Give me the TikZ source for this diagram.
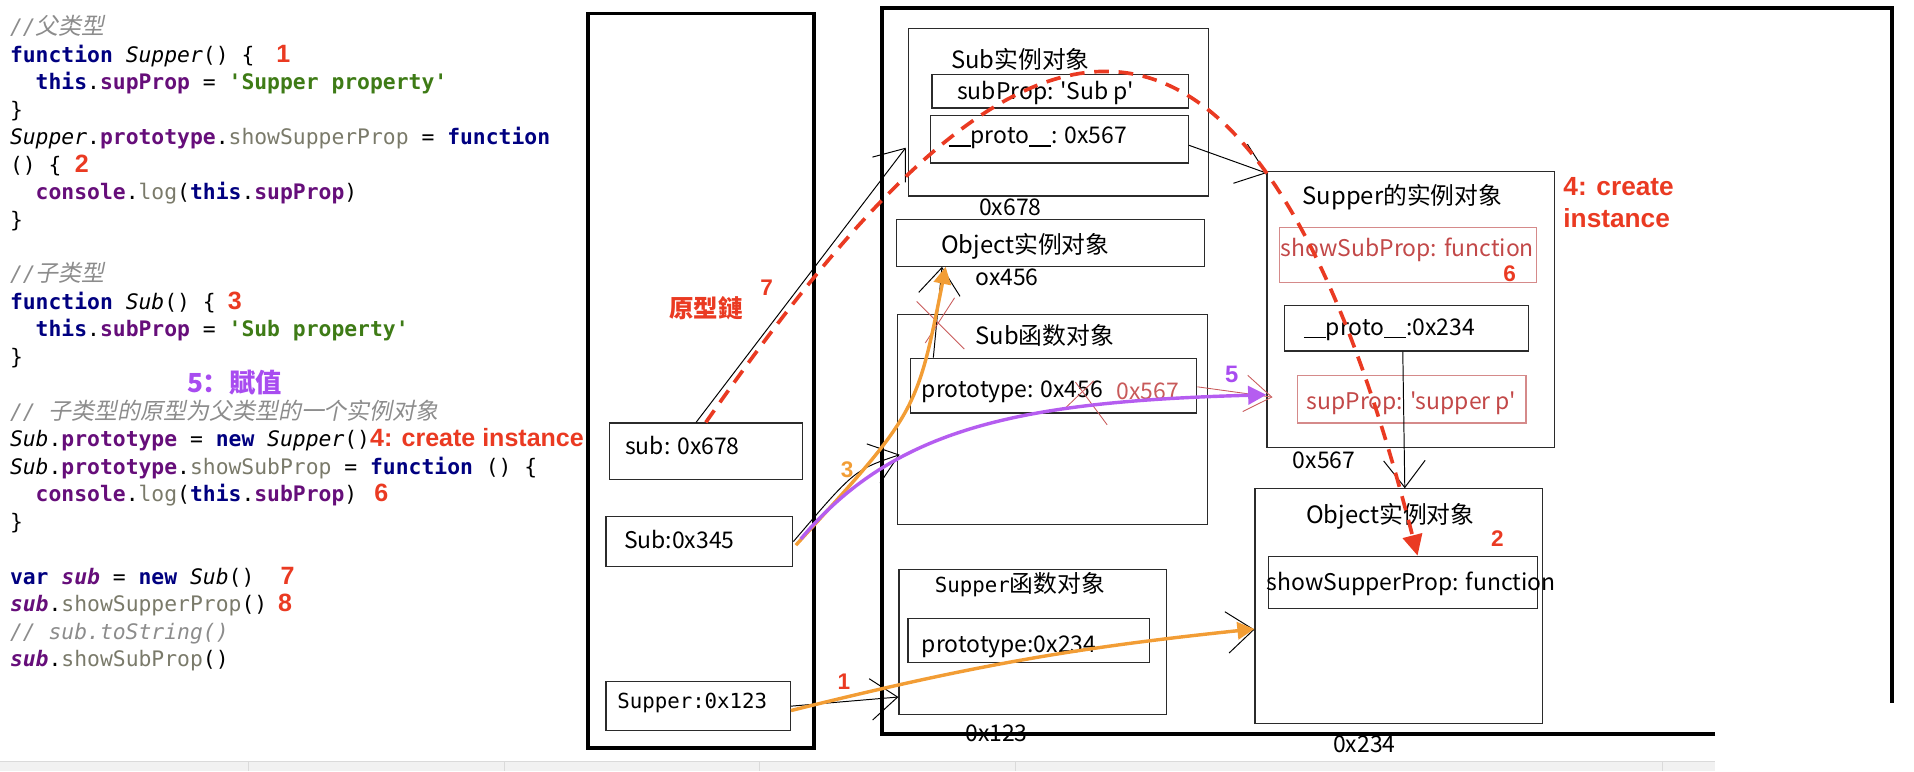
\documentclass[tikz,border=0pt]{standalone}
\usepackage{fontspec}
\setmonofont{DejaVu Sans Mono}
\newfontfamily\cjk{Noto Sans CJK SC}
\newfontfamily\cjkslant[FakeSlant=0.2]{Noto Sans CJK SC}
\newfontfamily\lblfont{Liberation Sans}
\usepackage{xcolor}
\usetikzlibrary{arrows.meta,calc,positioning}

\definecolor{kwblue}{HTML}{000080}
\definecolor{fldpurple}{HTML}{660E7A}
\definecolor{strgreen}{HTML}{3E7B16}
\definecolor{mthgray}{HTML}{7A7A6A}
\definecolor{cmtgray}{HTML}{8C8C8C}
\definecolor{stepred}{HTML}{EA3A22}
\definecolor{arrorange}{HTML}{F29D35}
\definecolor{arrpurple}{HTML}{B55DF0}
\definecolor{assignpurple}{HTML}{A84CF0}
\definecolor{oldred}{HTML}{C85A5A}
\definecolor{slotred}{HTML}{D58A8A}
\definecolor{slottext}{HTML}{C24848}
\definecolor{boxgray}{HTML}{2B2B2B}
\definecolor{stripgray}{HTML}{F1F1F1}
\definecolor{stripline}{HTML}{DADADA}

\newcommand{\codefont}{\ttfamily\fontsize{17.5}{22.5}\selectfont}
\newcommand{\diagfont}{\cjk\fontsize{18.8}{22}\selectfont}
\newcommand{\titlefont}{\cjk\fontsize{19.5}{23}\selectfont}
\newcommand{\monolbl}{\ttfamily\fontsize{17}{20}\selectfont}
\newcommand{\us}{\rule[-2.5pt]{9pt}{1.1pt}}
\newcommand{\jskw}[1]{\textcolor{kwblue}{\bfseries #1}}
\newcommand{\jsfld}[1]{\textcolor{fldpurple}{\bfseries #1}}
\newcommand{\jsstr}[1]{\textcolor{strgreen}{\bfseries #1}}
\newcommand{\jsmth}[1]{\textcolor{mthgray}{#1}}
\newcommand{\jsvar}[1]{\textcolor{fldpurple}{\bfseries\itshape #1}}
\newcommand{\jsid}[1]{{\itshape #1}}
\newcommand{\jscmt}[1]{\textcolor{cmtgray}{\itshape #1}}
\newcommand{\zhc}[1]{{\cjkslant\fontsize{18.8}{22.5}\selectfont #1}}
\newcommand{\stepno}[1]{\textcolor{stepred}{\lblfont\bfseries\fontsize{20.5}{22.5}\selectfont #1}}

\tikzset{%
	frame/.style     = {line width=3pt, black},
	slot/.style      = {draw=boxgray, line width=1pt, inner sep=0pt, anchor=north west},
	redslot/.style   = {slot, draw=slotred},
	txt/.style       = {inner sep=0pt, font=\diagfont},
	title/.style     = {inner sep=0pt, font=\titlefont},
	code/.style      = {inner sep=0pt, anchor=base west, font=\codefont},
	redno/.style     = {inner sep=0pt, text=stepred, font=\lblfont\bfseries\fontsize{18.5}{21}\selectfont},
	handarrow/.style = {line width=0.8pt, -{Straight Barb[length=22pt,width=34pt]}},
	oldmark/.style   = {oldred, line width=0.7pt},
	protochain/.style= {stepred, line width=3pt, dash pattern=on 12pt off 8pt, -{Triangle[length=17pt,width=16pt]}},
	newarrow/.style  = {arrorange, line width=2.8pt, -{Triangle[length=14pt,width=14pt]}},
	setarrow/.style  = {arrpurple, line width=2.8pt, -{Triangle[length=15pt,width=15pt]}},
}

\begin{document}
\begin{tikzpicture}[x=1pt,y=-1pt]
	\useasboundingbox (0,0) rectangle (1568,632);
	% strip at the bottom of the screen
	\fill[stripgray] (0,624) rectangle (1405,632);
	\draw[stripline] (0,624) -- (1405,624);
	\draw[stripline] (203,624) -- (203,632);
	\draw[stripline] (413,624) -- (413,632);
	\draw[stripline] (622,624) -- (622,632);
	\draw[stripline] (832,624) -- (832,632);
	\draw[stripline] (1362,624) -- (1362,632);
	
	% source code
	\node[code] (ln0) at (8,28.5) {\jscmt{//\zhc{父类型}}};
	\node[code] (ln1) at (8,51) {\jskw{function} \jsid{Supper}() \{\hspace{18pt}\stepno{1}};
	\node[code] (ln2) at (8,73.5) {\ \ \jskw{this}.\jsfld{supProp} = \jsstr{'Supper property'}};
	\node[code] (ln3) at (8,96) {\}};
	\node[code] (ln4) at (8,118.5) {\jsid{Supper}.\jsfld{prototype}.\jsmth{showSupperProp} = \jskw{function}};
	\node[code] (ln5) at (8,141) {() \{\hspace{11pt}\stepno{2}};
	\node[code] (ln6) at (8,163.5) {\ \ \jsfld{console}.\jsmth{log}(\jskw{this}.\jsfld{supProp})};
	\node[code] (ln7) at (8,186) {\}};
	\node[code] (ln9) at (8,231) {\jscmt{//\zhc{子类型}}};
	\node[code] (ln10) at (8,253.5) {\jskw{function} \jsid{Sub}() \{\hspace{10pt}\stepno{3}};
	\node[code] (ln11) at (8,276) {\ \ \jskw{this}.\jsfld{subProp} = \jsstr{'Sub property'}};
	\node[code] (ln12) at (8,298.5) {\}};
	\node[inner sep=0pt, anchor=west, text=assignpurple, font=\cjk\bfseries\fontsize{21.5}{24}\selectfont] (assign) at (153,313) {5：賦值};
	\node[code] (ln14) at (8,343.5) {\jscmt{// \zhc{子类型的原型为父类型的一个实例对象}}};
	\node[code] (ln15) at (8,366) {\jsid{Sub}.\jsfld{prototype} = \jskw{new} \jsid{Supper}()\stepno{4: create instance}};
	\node[code] (ln16) at (8,388.5) {\jsid{Sub}.\jsfld{prototype}.\jsmth{showSubProp} = \jskw{function} () \{};
	\node[code] (ln17) at (8,411) {\ \ \jsfld{console}.\jsmth{log}(\jskw{this}.\jsfld{subProp})\hspace{14pt}\stepno{6}};
	\node[code] (ln18) at (8,433.5) {\}};
	\node[code] (ln20) at (8,478.5) {\jskw{var} \jsvar{sub} = \jskw{new} \jsid{Sub}()\hspace{21.5pt}\stepno{7}};
	\node[code] (ln21) at (8,501) {\jsvar{sub}.\jsmth{showSupperProp}()\hspace{9pt}\stepno{8}};
	\node[code] (ln22) at (8,523.5) {\jscmt{// sub.toString()}};
	\node[code] (ln23) at (8,546) {\jsvar{sub}.\jsmth{showSubProp}()};
	
	% stack
	\draw[frame] (481.5,11) rectangle (667,613);
	\node[slot, minimum width=158.5, minimum height=46] (subvar) at (498.5,346) {};
	\node[txt, anchor=west] (subvartxt) at (512,364.6) {sub: 0x678};
	\node[slot, minimum width=153, minimum height=41.2] (sub345) at (496,422.5) {};
	\node[txt, anchor=west] (sub345txt) at (511,442) {Sub:0x345};
	\node[slot, minimum width=151, minimum height=40] (supvar) at (496,558) {};
	\node[inner sep=0pt, anchor=west, font=\monolbl] (supvartxt) at (505.5,576) {Supper:0x123};
	
	% heap
	\draw[frame] (1405,601.5) -- (722.6,601.5) -- (722.6,6.5) -- (1550,6.5) -- (1550,576);
	
	\node[slot, minimum width=245.6, minimum height=137] (subinst) at (744,23) {};
	\node[title] (subinsttxt) at (836,49) {Sub实例对象};
	\node[slot, minimum width=210, minimum height=27.4] (subprop) at (763,60.6) {};
	\node[txt, anchor=west] (subproptxt) at (784,76) {subProp: 'Sub p'};
	\node[slot, minimum width=211, minimum height=39] (proto567) at (762,94) {};
	\node[txt, anchor=west] (proto567txt) at (777,113) {\us\us proto\us\us: 0x567};
	\node[txt, anchor=west] (adr678) at (802,170) {0x678};
	
	\node[slot, minimum width=252.3, minimum height=38.6] (objA) at (733.7,179) {};
	\node[title] (objAtxt) at (840,201.5) {Object实例对象};
	\node[txt, anchor=west] (adr456) at (799,227) {ox456};
	
	\node[slot, minimum width=253.5, minimum height=172] (subfn) at (735,257) {};
	\node[title] (subfntxt) at (856,274.5) {Sub函数对象};
	\node[slot, minimum width=234.4, minimum height=44.8] (proto456) at (745.6,293) {};
	\node[txt, anchor=west] (proto456txt) at (755,320.8) {prototype: 0x456};
	\node[txt, anchor=west, text=oldred] (new567) at (914.7,320.8) {0x567};
	
	\node[slot, minimum width=219, minimum height=119] (supfn) at (736,466) {};
	\node[title] (supfntxt) at (835.5,479) {{\monolbl Supper}函数对象};
	\node[slot, minimum width=198, minimum height=36] (proto234) at (743.3,506) {};
	\node[txt, anchor=west] (proto234txt) at (755,529.7) {prototype:0x234};
	\node[txt, anchor=west] (adr123) at (790.6,600.6) {0x123};
	
	\node[slot, minimum width=235.5, minimum height=226.2] (supinst) at (1037.5,139.8) {};
	\node[title] (supinsttxt) at (1149,161.7) {Supper的实例对象};
	\node[redslot, minimum width=210, minimum height=45] (showsub) at (1048,185.7) {};
	\node[txt, text=slottext] (showsubtxt) at (1153,204.8) {showSubProp: function};
	\node[redno] (no6) at (1236.8,224.5) {6};
	\node[slot, minimum width=199.4, minimum height=37] (proto234b) at (1052,250) {};
	\node[txt, anchor=west] (proto234btxt) at (1068,270) {\us\us proto\us\us:0x234};
	\node[redslot, minimum width=187, minimum height=39] (supprop) at (1062.6,307) {};
	\node[txt, text=slottext] (supproptxt) at (1156,330.3) {supProp: 'supper p'};
	\node[txt, anchor=west] (adr567) at (1059,376.8) {0x567};
	
	\node[slot, minimum width=235.3, minimum height=192.5] (objB) at (1027.7,400) {};
	\node[title] (objBtxt) at (1139,423.3) {Object实例对象};
	\node[redno] (no2) at (1226.7,441) {2};
	\node[slot, minimum width=220.4, minimum height=42.6] (showsup) at (1038.6,455.2) {};
	\node[txt, anchor=west] (showsuptxt) at (1037.5,477.9) {showSupperProp: function};
	\node[txt, anchor=west] (adr234) at (1092,610) {0x234};
	
	\node[redno, anchor=west, font=\lblfont\bfseries\fontsize{21.5}{24}\selectfont] (create1) at (1280.6,153) {4: create};
	\node[redno, anchor=west, font=\lblfont\bfseries\fontsize{21.5}{24}\selectfont] (create2) at (1280.6,179) {instance};
	
	% hand drawn references
	\draw[handarrow] ($(subvar.north)+(-8,0)$) -- ($(subinst.north west)+(-2,98)$);
	\draw[handarrow] ($(proto567.east)+(0,5)$) -- ($(supinst.north west)+(0,2)$);
	\draw[handarrow] ($(proto234b.south)+(-3,0)$) -- ($(objB.north)+(5,0)$);
	\draw[handarrow] (supvar.east) -- ($(supfn.west)+(0,45)$);
	\draw[handarrow] (proto234.east) -- ($(objB.west)+(0,19)$);
	\draw[handarrow] (sub345.east) .. controls (700,385) .. ($(subfn.west)+(2,29)$);
	\draw[handarrow] ($(proto456.north west)+(19,0)$) -- ($(objA.south west)+(38,0)$);
	
	% crossed out
	\draw[oldmark] (751,247) -- (790,286);
	\draw[oldmark] (758,281) -- (782,244);
	\draw[oldmark] (872,335) -- (896,312);
	\draw[oldmark] (881,313) -- (907,348);
	\draw[oldmark, -{Straight Barb[length=22pt,width=30pt]}] ($(proto456.east)+(0,1)$) -- ($(supinst.west)+(5,72)$);
	
	% steps
	\draw[newarrow] ($(supvar.east)+(0,3.6)$) to[bend left=4] ($(objB.west)+(0,18.5)$);
	\draw[newarrow] ($(sub345.east)+(2,3)$) .. controls (751,338) .. ($(objA.south west)+(41,0)$);
	\draw[setarrow] ($(sub345.east)+(6,-2)$) .. controls (733,350) and (836,329) .. ($(supinst.west)+(0,70)$);
	\draw[protochain] (subvar.north) .. controls (767,76) and (1000,-175) .. ($(showsup.north)+(12,0)$);
	
	\node[inner sep=0pt, text=stepred, font=\cjk\bfseries\fontsize{20}{24}\selectfont] (chainlbl) at (578.5,252.7) {原型鏈};
	\node[redno] (no7) at (628,236) {7};
	\node[redno] (no1) at (691.3,558.4) {1};
	\node[redno, text=arrorange] (no3) at (694,384.5) {3};
	\node[redno, text=assignpurple, font=\lblfont\bfseries\fontsize{19.5}{22}\selectfont] (no5) at (1009,306.4) {5};
\end{tikzpicture}
\end{document}
